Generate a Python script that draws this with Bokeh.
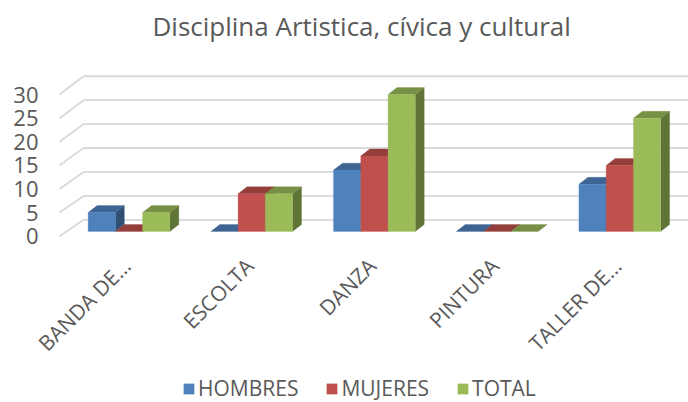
import math
from bokeh.plotting import figure
from bokeh.models import ColumnDataSource, Range1d, Legend, LegendItem
from bokeh.core.properties import value
from bokeh.embed import file_html
from bokeh.resources import INLINE

# ---- data ----
categories = ["BANDA DE…", "ESCOLTA", "DANZA", "PINTURA", "TALLER DE…"]
series_names = ["HOMBRES", "MUJERES", "TOTAL"]
hombres = [4, 0, 13, 0, 10]
mujeres = [0, 8, 16, 0, 14]
total = [4, 8, 29, 0, 24]
y_ticks = [0, 5, 10, 15, 20, 25, 30]
title_text = "Disciplina Artistica, cívica y cultural"

# ---- styles ----
front_colors = ["#4F81BD", "#C0504D", "#9BBB59"]
top_colors = ["#3D6492", "#943E3B", "#779045"]
side_colors = ["#315075", "#773230", "#607437"]
TEXT = "#595959"
GRID = "#D9D9D9"
FONT = "Open Sans"

# 3D geometry (data units)
BAR_W = 0.222
BAR_BASE = 1.0
BAR_DX = 0.073
BAR_DY = 1.48
WALL_X_FRONT = -0.566
WALL_DX = 0.196
BACK_SCALE = 1.014
BACK_DY = 3.47
LABEL_DX = -0.019
LABEL_Y = -5.47
TICK_LABEL_X = -0.7376

p = figure(frame_width=688, frame_height=352,
           x_range=Range1d(-1.0473, 4.5599), y_range=Range1d(-35.23, 39.34),
           output_backend="svg", toolbar_location=None,
           x_axis_location=None, y_axis_location=None,
           min_border_left=0, min_border_right=0, min_border_top=50, min_border_bottom=0,
           title=title_text)
p.outline_line_color = None
p.border_fill_color = "white"
p.xgrid.visible = False
p.ygrid.visible = False

p.title.align = "left"
p.title.vertical_align = "top"
p.title.offset = 152
p.title.text_font = FONT
p.title.text_font_size = "26px"
p.title.text_font_style = "normal"
p.title.text_color = TEXT
p.title.standoff = 10

# walls: back-wall gridlines + side-wall diagonals
bx = WALL_X_FRONT + WALL_DX
back_y = [v * BACK_SCALE + BACK_DY for v in y_ticks]
p.segment(x0=[bx] * len(y_ticks), y0=back_y, x1=[6.0] * len(y_ticks), y1=back_y,
          line_color=GRID, line_width=1.8)
p.segment(x0=[WALL_X_FRONT] * len(y_ticks), y0=y_ticks, x1=[bx] * len(y_ticks), y1=back_y,
          line_color=GRID, line_width=1.8)

# bars as 3D prisms
series = [hombres, mujeres, total]
xs, ys, colors = [], [], []
front_index = {}
for ci in range(len(categories)):
    for si, vals in enumerate(series):
        v = vals[ci]
        x0 = ci + (si - 1.5) * BAR_W
        x1 = x0 + BAR_W
        y0 = BAR_BASE
        y1 = BAR_BASE + v
        xs.append([x1, x1 + BAR_DX, x1 + BAR_DX, x1])
        ys.append([y0, y0 + BAR_DY, y1 + BAR_DY, y1])
        colors.append(side_colors[si])
        xs.append([x0, x1, x1 + BAR_DX, x0 + BAR_DX])
        ys.append([y1, y1, y1 + BAR_DY, y1 + BAR_DY])
        colors.append(top_colors[si])
        if v > 0:
            xs.append([x0, x1, x1, x0])
            ys.append([y0, y0, y1, y1])
            colors.append(front_colors[si])
            front_index.setdefault(si, len(xs) - 1)

src = ColumnDataSource(dict(xs=xs, ys=ys, color=colors))
bars = p.patches("xs", "ys", source=src, fill_color="color", line_color="color", line_width=0.3)

# value tick labels on the front plane
tick_src = ColumnDataSource(dict(
    x=[TICK_LABEL_X] * len(y_ticks), y=y_ticks, text=[str(t) for t in y_ticks]))
p.text(x="x", y="y", text="text", source=tick_src,
       text_align="right", text_baseline="middle",
       text_font=value(FONT), text_font_size="22px", text_color=TEXT)

# category labels (rotated 45 degrees, ending at each category)
lab_src = ColumnDataSource(dict(
    x=[i + LABEL_DX for i in range(len(categories))],
    y=[LABEL_Y] * len(categories),
    text=categories))
p.text(x="x", y="y", text="text", source=lab_src, angle=math.pi / 4,
       text_align="right", text_baseline="middle",
       text_font=value(FONT), text_font_size="21px", text_color=TEXT)

legend = Legend(items=[LegendItem(label=series_names[i], renderers=[bars], index=front_index[i])
                       for i in range(3)],
                orientation="horizontal", location=(182, 0))
legend.label_text_font = FONT
legend.label_text_font_size = "21px"
legend.label_text_color = TEXT
legend.glyph_width = 13
legend.glyph_height = 13
legend.label_standoff = 3
legend.spacing = 27
legend.padding = 0
legend.margin = 0
legend.border_line_color = None
legend.background_fill_alpha = 0
p.add_layout(legend, "center")

open("out.html", "w").write(file_html(p, INLINE))
